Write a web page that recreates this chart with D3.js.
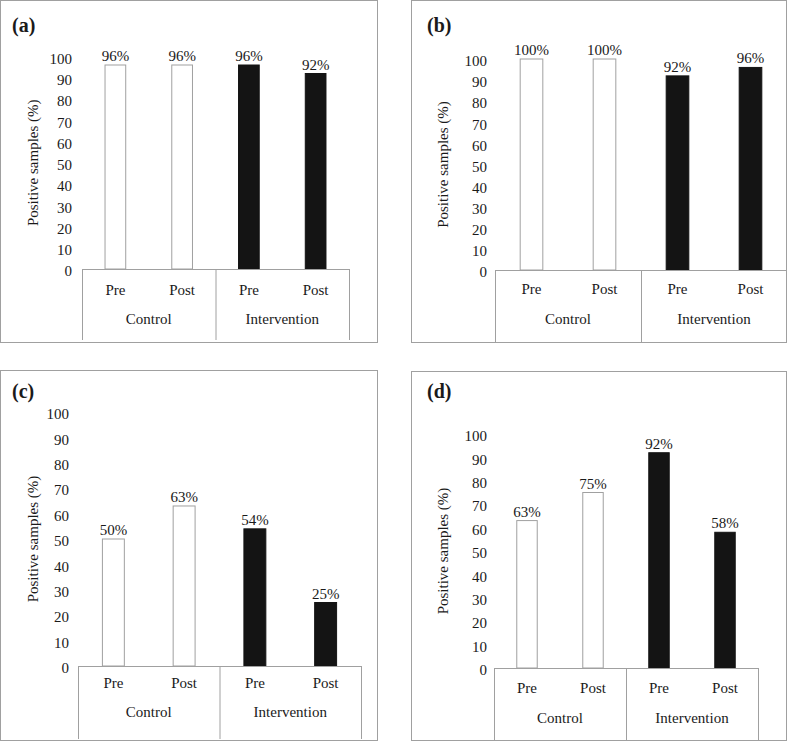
<!DOCTYPE html>
<html><head><meta charset="utf-8">
<script src="https://cdn.jsdelivr.net/npm/d3@7"></script>
<style>body{margin:0;background:#fff}svg{display:block}</style>
</head><body><div id="chart"></div>
<script>
const panelLabels = ["(a)", "(b)", "(c)", "(d)"];
const categories = ["Pre", "Post", "Pre", "Post"];
const groups = ["Control", "Intervention"];
const barGroups = ["Control", "Control", "Intervention", "Intervention"];
const valuesA = [96, 96, 96, 92];
const valuesB = [100, 100, 92, 96];
const valuesC = [50, 63, 54, 25];
const valuesD = [63, 75, 92, 58];
const yTicks = [0, 10, 20, 30, 40, 50, 60, 70, 80, 90, 100];
const yTitle = "Positive samples (%)";

const FONT = "'Liberation Serif', 'Times New Roman', Times, serif";
const layouts = [
  {fx:0.5, fy:0.5, fw:377, fh:342, lx:12, ly:32, x0:82, x1:349, y0:269, y100:56.5, tickX:72, titleX:33, boxB:340, catY:290, grpY:319},
  {fx:411.5, fy:0.5, fw:375, fh:342, lx:427, ly:32, x0:495, x1:787, y0:270, y100:59, tickX:487, titleX:443, boxB:342, catY:289, grpY:319},
  {fx:0.5, fy:370.5, fw:377, fh:370, lx:12, ly:398, x0:78, x1:361, y0:666, y100:412, tickX:69, titleX:33, boxB:739, catY:683, grpY:712},
  {fx:411.5, fy:371.5, fw:375, fh:369, lx:427, ly:398, x0:494, x1:758, y0:668, y100:434, tickX:487, titleX:443, boxB:740, catY:688, grpY:718}
];
const allValues = [valuesA, valuesB, valuesC, valuesD];

const svg = d3.select("#chart").append("svg").attr("width", 787).attr("height", 742)
  .style("font-family", FONT);
const gray = "#a0a0a0";
const ink = "#1a1a1a";

allValues.forEach((vals, pi) => {
  const L = layouts[pi];
  const g = svg.append("g");
  g.append("rect").attr("x", L.fx).attr("y", L.fy).attr("width", L.fw).attr("height", L.fh)
    .attr("fill", "none").attr("stroke", gray).attr("stroke-width", 1);
  g.append("text").attr("x", L.lx).attr("y", L.ly).style("font-family", FONT).style("font-size", "20px")
    .style("font-weight", "bold").attr("fill", ink).text(panelLabels[pi]);

  const idx = categories.map((c, i) => i);
  const x = d3.scaleBand().domain(idx).range([L.x0, L.x1]).paddingInner(0.69).paddingOuter(0.345);
  const y = d3.scaleLinear().domain([0, 100]).range([L.y0, L.y100]);

  const yAxis = d3.axisLeft(y).tickValues(yTicks).tickSize(0).tickPadding(0);
  const ya = g.append("g").attr("transform", `translate(${L.tickX},0)`).call(yAxis);
  ya.attr("font-family", null).attr("font-size", null);
  ya.select(".domain").remove();
  ya.selectAll("text").style("font-family", FONT).style("font-size", "15px").attr("fill", ink).attr("dy", "0.45em");

  g.append("text").attr("transform", `translate(${L.titleX},${(L.y0 + L.y100) / 2}) rotate(-90)`)
    .attr("text-anchor", "middle").attr("dy", "0.35em").style("font-family", FONT).style("font-size", "15px")
    .attr("fill", ink).text(yTitle);

  g.selectAll("rect.bar").data(vals).join("rect").attr("class", "bar")
    .attr("x", (d, i) => x(i)).attr("width", x.bandwidth())
    .attr("y", d => y(d)).attr("height", d => y(0) - y(d))
    .attr("fill", (d, i) => barGroups[i] === "Control" ? "#fff" : "#141414")
    .attr("stroke", (d, i) => barGroups[i] === "Control" ? gray : "#141414").attr("stroke-width", 1);

  g.selectAll("text.val").data(vals).join("text").attr("class", "val")
    .attr("x", (d, i) => x(i) + x.bandwidth() / 2).attr("y", d => y(d) - 4)
    .attr("text-anchor", "middle").style("font-family", FONT).style("font-size", "15px").attr("fill", ink)
    .text(d => d + "%");

  const mid = (L.x0 + L.x1) / 2;
  g.append("line").attr("x1", L.x0).attr("x2", L.x1).attr("y1", L.y0 + 0.5).attr("y2", L.y0 + 0.5).attr("stroke", gray);
  [L.x0, mid, L.x1].forEach(xx => {
    g.append("line").attr("x1", xx + 0.5).attr("x2", xx + 0.5).attr("y1", L.y0).attr("y2", L.boxB).attr("stroke", gray);
  });
  g.selectAll("text.cat").data(categories).join("text").attr("class", "cat")
    .attr("x", (d, i) => x(i) + x.bandwidth() / 2).attr("y", L.catY).attr("dy", "0.35em")
    .attr("text-anchor", "middle").style("font-family", FONT).style("font-size", "15px").attr("fill", ink).text(d => d);
  g.selectAll("text.grp").data(groups).join("text").attr("class", "grp")
    .attr("x", (d, i) => L.x0 + (i + 0.5) * (L.x1 - L.x0) / 2).attr("y", L.grpY).attr("dy", "0.35em")
    .attr("text-anchor", "middle").style("font-family", FONT).style("font-size", "15px").attr("fill", ink).text(d => d);
});
</script></body></html>
